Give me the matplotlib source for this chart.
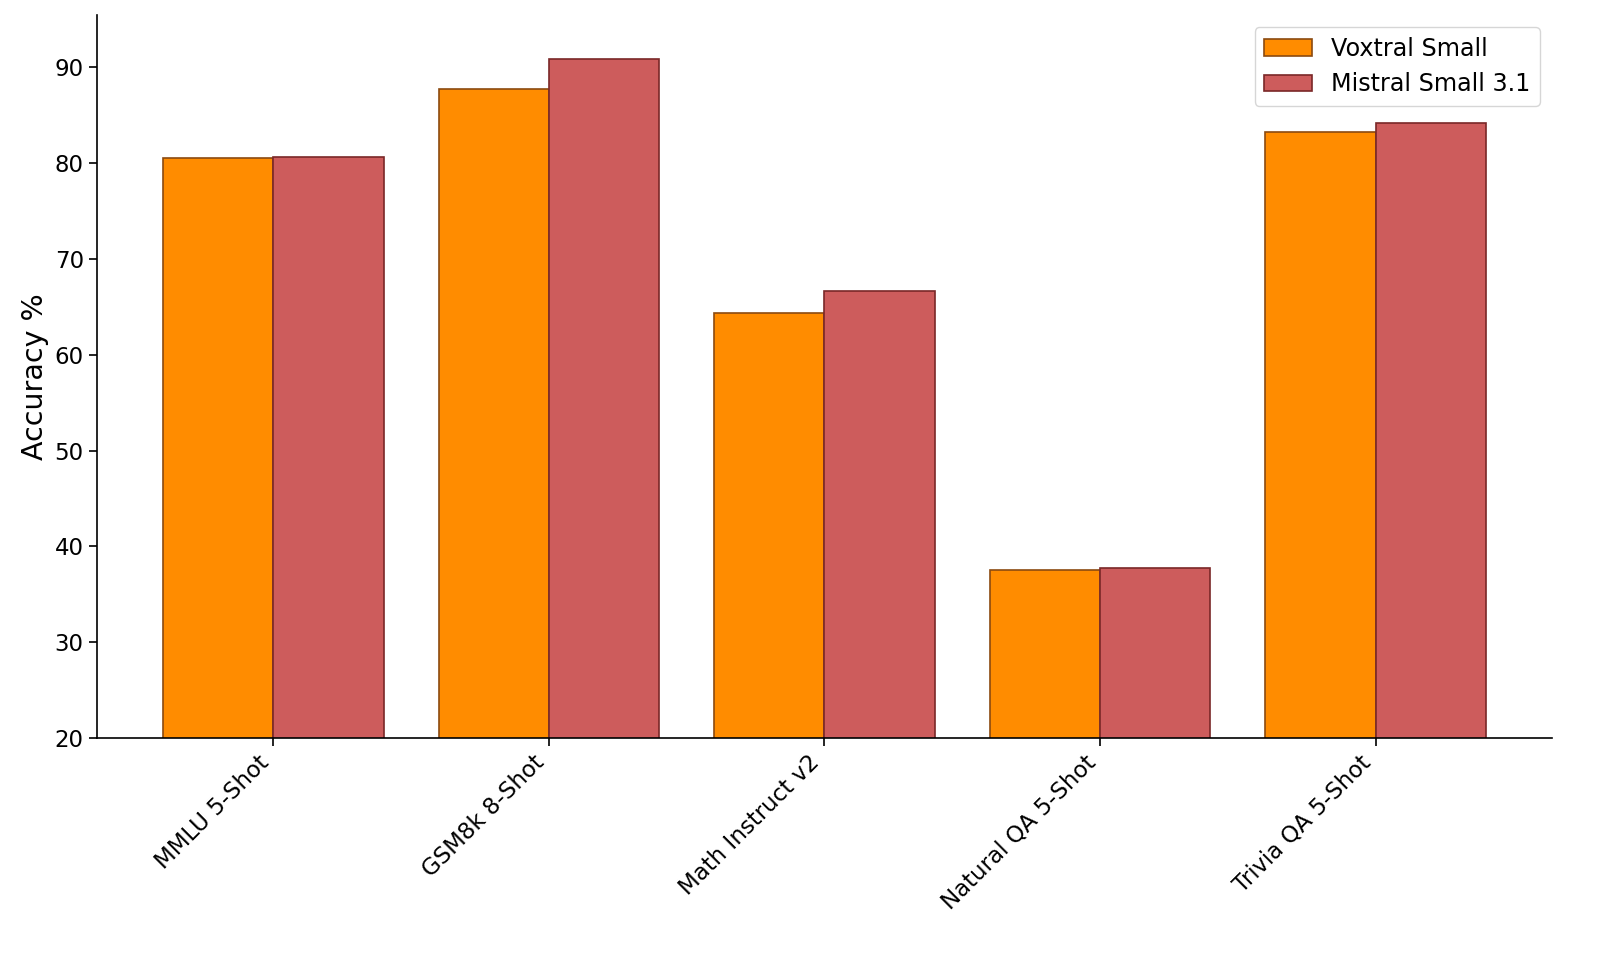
import numpy as np
import matplotlib
matplotlib.use('Agg')
import matplotlib.pyplot as plt


benchmarks = ['MMLU 5-Shot', 'GSM8k 8-Shot', 'Math Instruct v2', 'Natural QA 5-Shot', 'Trivia QA 5-Shot']
voxtral_small = [80.5, 87.7, 64.4, 37.5, 83.2]
mistral_small = [80.6, 90.9, 66.7, 37.7, 84.2]

model_names = ['Voxtral Small', 'Mistral Small 3.1']



def main():
    fig = plt.figure(figsize=(16, 9.58), dpi=100)
    ax = fig.add_axes([0.0606, 0.2296, 0.9094, 0.7547])

    x = np.arange(len(benchmarks))
    w = 0.4
    ax.bar(x - w/2, voxtral_small, w, color='darkorange', edgecolor='#8B4A10', linewidth=1.2, label=model_names[0])
    ax.bar(x + w/2, mistral_small, w, color='indianred', edgecolor='#7A2828', linewidth=1.2, label=model_names[1])

    ax.set_ylim(bottom=20)
    ax.set_xticks(x)
    ax.set_xticklabels(benchmarks, rotation=45, ha='right', fontsize=16.5)
    ax.tick_params(axis='y', labelsize=16.5)
    ax.tick_params(length=6, width=1.2)
    ax.set_ylabel('Accuracy %', fontsize=20.5)

    ax.spines['top'].set_visible(False)
    ax.spines['right'].set_visible(False)
    ax.spines['left'].set_linewidth(1.2)
    ax.spines['bottom'].set_linewidth(1.2)

    ax.legend(loc='upper right', fontsize=17.2)

    fig.savefig('out.png', dpi=100)



if __name__ == '__main__':
    main()
